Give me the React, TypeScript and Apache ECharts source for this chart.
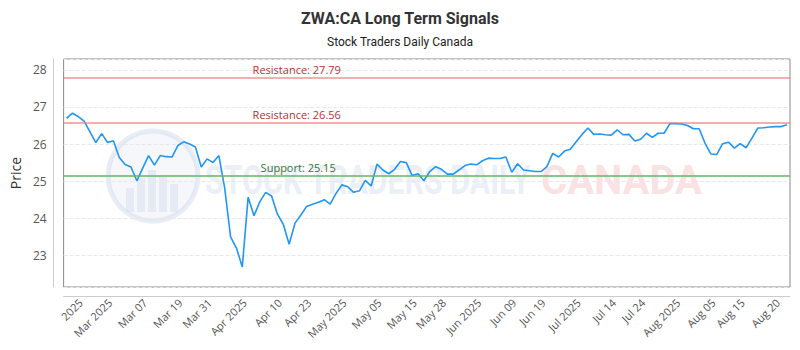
import React, { useEffect, useRef } from 'react';
import * as echarts from 'echarts';

const prices = [
  26.69, 26.83, 26.74, 26.62, 26.33, 26.04, 26.28, 26.04, 26.09, 25.64,
  25.45, 25.38, 25.01, 25.35, 25.69, 25.43, 25.69, 25.66, 25.65, 25.96,
  26.06, 26.0, 25.92, 25.38, 25.6, 25.5, 25.69, 24.81, 23.5, 23.2,
  22.69, 24.57, 24.07, 24.45, 24.7, 24.6, 24.11, 23.84, 23.3, 23.87,
  24.09, 24.32, 24.38, 24.43, 24.5, 24.38, 24.67, 24.9, 24.85, 24.7,
  24.74, 25.02, 24.87, 25.46, 25.3, 25.2, 25.32, 25.53, 25.5, 25.15,
  25.2, 25.01, 25.26, 25.39, 25.32, 25.19, 25.19, 25.3, 25.42, 25.46,
  25.44, 25.55, 25.62, 25.61, 25.61, 25.65, 25.24, 25.47, 25.3, 25.28,
  25.26, 25.26, 25.39, 25.75, 25.65, 25.81, 25.86, 26.06, 26.26, 26.43,
  26.26, 26.27, 26.25, 26.24, 26.38, 26.25, 26.26, 26.08, 26.13, 26.29,
  26.18, 26.29, 26.29, 26.55, 26.55, 26.54, 26.5, 26.41, 26.41, 26.02,
  25.73, 25.72, 26.01, 26.05, 25.89, 26.01, 25.9, 26.16, 26.43, 26.44,
  26.46, 26.47, 26.47, 26.52,
];

const tickIndex = [3, 8, 14, 20, 25, 31, 37, 42, 48, 54, 60, 65, 71, 77, 82, 88, 94, 99, 105, 111, 116, 122];
const tickLabels = [
  '2025', 'Mar 2025', 'Mar 07', 'Mar 19', 'Mar 31', 'Apr 2025', 'Apr 10', 'Apr 23',
  'May 2025', 'May 05', 'May 15', 'May 28', 'Jun 2025', 'Jun 09', 'Jun 19', 'Jul 2025',
  'Jul 14', 'Jul 24', 'Aug 2025', 'Aug 05', 'Aug 15', 'Aug 20',
];

const resistanceLevels = [27.79, 26.56];
const supportLevels = [25.15];

const categories = prices.map((_, i) => 'd' + i);
const labelAt = new Map<number, string>(tickIndex.map((ix, k) => [ix, tickLabels[k]]));

export default function App() {
  const ref = useRef<HTMLDivElement>(null);
  useEffect(() => {
    document.body.style.margin = '0';
    const chart = echarts.init(ref.current!, null, { renderer: 'svg' });
    const markData: any[] = [];
    resistanceLevels.forEach((v) => {
      markData.push({
        yAxis: v,
        lineStyle: { color: 'rgba(238,120,120,0.6)', width: 2, type: 'solid' },
        label: {
          formatter: 'Resistance: ' + v.toFixed(2),
          color: '#b03434',
          position: 'insideStartTop',
          distance: [189, 3],
          fontSize: 11,
          fontFamily: 'Open Sans',
        },
      });
    });
    supportLevels.forEach((v) => {
      markData.push({
        yAxis: v,
        lineStyle: { color: 'rgba(100,180,100,0.75)', width: 2, type: 'solid' },
        label: {
          formatter: 'Support: ' + v.toFixed(2),
          color: '#2f7a2f',
          position: 'insideStartTop',
          distance: [197, 3],
          fontSize: 11,
          fontFamily: 'Open Sans',
        },
      });
    });

    const bars = [
      [126, 188, 8, 24], [137, 178, 8, 34], [148, 170, 8, 42], [159, 176, 8, 36], [170, 184, 8, 28],
    ];

    chart.setOption({
      animation: false,
      backgroundColor: '#fff',
      title: {
        text: 'ZWA:CA Long Term Signals',
        subtext: 'Stock Traders Daily Canada',
        left: 'center',
        top: 5,
        itemGap: 10,
        textStyle: { fontSize: 16, fontWeight: 'bold', color: '#333', fontFamily: 'Roboto' },
        subtextStyle: { fontSize: 12, color: '#222', fontFamily: 'Roboto' },
      },
      graphic: [
        {
          type: 'group',
          silent: true,
          z: 0,
          children: [
            {
              type: 'circle',
              shape: { cx: 153, cy: 176, r: 45 },
              style: { fill: 'rgba(222,230,243,0.3)', stroke: 'rgba(210,220,238,0.5)', lineWidth: 5 },
            },
            ...bars.map((b) => ({
              type: 'rect',
              shape: { x: b[0], y: b[1], width: b[2], height: b[3] },
              style: { fill: 'rgba(205,216,236,0.4)' },
            })),
            {
              type: 'text',
              x: 205,
              y: 180,
              scaleX: 0.76,
              style: {
                text: 'STOCK TRADERS DAILY',
                font: 'bold 40px Roboto',
                fill: 'rgba(210,220,238,0.45)',
                verticalAlign: 'middle',
              },
            },
            {
              type: 'text',
              x: 541,
              y: 180,
              scaleX: 1.0,
              style: {
                text: 'CANADA',
                font: 'bold 40px Roboto',
                fill: 'rgba(245,180,180,0.4)',
                verticalAlign: 'middle',
              },
            },
          ],
        },
      ],
      grid: {
        left: 60,
        right: 10,
        top: 59,
        bottom: 63,
        show: true,
        borderColor: '#888',
        borderWidth: 1,
        backgroundColor: 'transparent',
      },
      xAxis: {
        type: 'category',
        data: categories,
        boundaryGap: true,
        offset: 9,
        axisLine: { show: true, lineStyle: { color: '#ccc' } },
        axisTick: { show: false },
        splitLine: { show: false },
        axisLabel: {
          rotate: 45,
          margin: 1,
          padding: [0, 5, 0, 0],
          fontSize: 11,
          color: '#555',
          fontFamily: 'Open Sans',
          interval: (i: number) => labelAt.has(i),
          formatter: (_v: string, i: number) => labelAt.get(i) ?? '',
        },
      },
      yAxis: {
        type: 'value',
        min: 22.15,
        max: 28.29,
        minInterval: 1,
        maxInterval: 1,
        offset: 10,
        name: 'Price',
        nameLocation: 'middle',
        nameGap: 28,
        nameTextStyle: { fontSize: 14, color: '#333', fontFamily: 'Open Sans' },
        axisLine: { show: true, lineStyle: { color: '#ccc' } },
        axisTick: { show: false },
        axisLabel: {
          fontSize: 12,
          color: '#555',
          margin: 7,
          fontFamily: 'Open Sans',
          showMinLabel: false,
          showMaxLabel: false,
          formatter: (v: number) => (Math.abs(v - Math.round(v)) < 1e-6 ? String(Math.round(v)) : ''),
        },
        splitLine: { show: true, lineStyle: { color: '#e8e8e8', type: 'dashed' } },
      },
      series: [
        {
          type: 'line',
          data: prices,
          symbol: 'none',
          lineStyle: { color: '#2196f3', width: 1.6 },
          itemStyle: { color: '#2196f3' },
          z: 3,
          markLine: {
            silent: true,
            symbol: 'none',
            data: markData,
          },
        },
      ],
    });
    return () => chart.dispose();
  }, []);
  return <div ref={ref} style={{ width: 800, height: 350 }} />;
}
